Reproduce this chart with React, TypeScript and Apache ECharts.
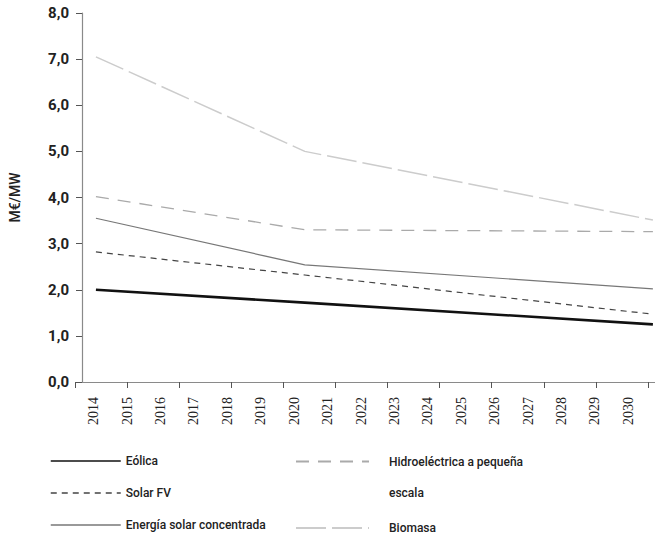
import React, { useEffect, useRef } from "react";
import * as echarts from "echarts";

const years = ["2014","2015","2016","2017","2018","2019","2020","2021","2022","2023","2024","2025","2026","2027","2028","2029","2030"];
const pointYears = [2014, 2020, 2030];
const eolica = [2.0, 1.72, 1.25];
const solarFV = [2.82, 2.32, 1.47];
const solarConc = [3.55, 2.54, 2.02];
const hidro = [4.02, 3.3, 3.26];
const biomasa = [7.05, 5.0, 3.51];
const yTicks = [0, 1, 2, 3, 4, 5, 6, 7, 8];

const pairs = (vals: number[]) => vals.map((v, i) => [pointYears[i], v]);

export default function App() {
  const ref = useRef<HTMLDivElement>(null);
  useEffect(() => {
    if (!ref.current) return;
    const chart = echarts.init(ref.current, undefined, { renderer: "svg" });
    const font = "Roboto";
    const mk = (name: string, vals: number[], color: string, width: number, type: any) => ({
      name,
      type: "line",
      xAxisIndex: 1,
      yAxisIndex: 0,
      data: pairs(vals),
      symbol: "none",
      lineStyle: { color, width, type },
      itemStyle: { color },
      z: 3,
    });
    const hiddenSymbol = { color: "rgba(0,0,0,0)", borderWidth: 0, opacity: 0 };
    chart.setOption({
      animation: false,
      backgroundColor: "#fff",
      grid: [
        { left: 75, right: 0, top: 13, bottom: 160 },
        { left: 77, right: 10, top: 13, bottom: 160 },
        { left: 75, right: 7, top: 13, bottom: 160 },
      ],
      xAxis: [
        {
          type: "value", gridIndex: 0, min: 0, max: 1, show: true,
          axisLine: { show: true, lineStyle: { color: "#8a8a8a", width: 1.2 } },
          axisTick: { show: false }, axisLabel: { show: false }, splitLine: { show: false },
        },
        {
          type: "value", gridIndex: 0, min: 2013.6, max: 2030.06, show: false,
        },
        {
          type: "category", gridIndex: 1, data: years, boundaryGap: true,
          axisLine: { show: false }, axisTick: { show: false }, splitLine: { show: false },
          axisLabel: { rotate: 90, margin: 15, fontFamily: "Liberation Sans Narrow", fontSize: 14, color: "#222", interval: 0 },
        },
        {
          type: "value", gridIndex: 2, min: 0, max: 11, interval: 1,
          axisLine: { show: false }, axisLabel: { show: false }, splitLine: { show: false },
          axisTick: { show: true, length: 6, lineStyle: { color: "#555", width: 1 } },
        },
      ],
      yAxis: [
        {
          type: "value", gridIndex: 0, min: yTicks[0], max: yTicks[yTicks.length - 1], interval: 1,
          name: "M€/MW", nameLocation: "middle", nameGap: 60, nameRotate: 90,
          nameTextStyle: { fontFamily: font, fontSize: 14, fontWeight: 500, color: "#222" },
          axisLine: { show: true, lineStyle: { color: "#8a8a8a", width: 1.2 } },
          axisTick: { show: true, length: 6, lineStyle: { color: "#555" } },
          splitLine: { show: false },
          axisLabel: {
            margin: 13, fontFamily: font, fontSize: 15, fontWeight: "bold", color: "#222",
            formatter: (v: number) => v.toFixed(1).replace(".", ","),
          },
        },
        { type: "value", gridIndex: 1, show: false },
        { type: "value", gridIndex: 2, show: false },
      ],
      legend: [
        {
          data: ["Eólica", "Solar FV", "Energía solar concentrada"],
          orient: "vertical", left: 45, top: 450, itemWidth: 70, itemHeight: 14, itemGap: 20,
          textStyle: { fontFamily: font, fontSize: 12, fontWeight: 500, color: "#222" },
          itemStyle: hiddenSymbol,
          lineStyle: { width: 1.5 },
          selectedMode: false,
        },
        {
          data: ["Hidroeléctrica a pequeña escala"],
          orient: "vertical", left: 290, top: 410, itemWidth: 73, itemHeight: 14,
          formatter: () => "\nHidroeléctrica a pequeña\nescala",
          textStyle: { fontFamily: font, fontSize: 12, fontWeight: 500, color: "#222", lineHeight: 31, padding: [0, 0, 0, 15] },
          itemStyle: hiddenSymbol,
          selectedMode: false,
        },
        {
          data: ["Biomasa"],
          orient: "vertical", left: 290, top: 517, itemWidth: 73, itemHeight: 14,
          textStyle: { fontFamily: font, fontSize: 12, fontWeight: 500, color: "#222", padding: [0, 0, 0, 15] },
          itemStyle: hiddenSymbol,
          selectedMode: false,
        },
      ],
      series: [
        mk("Eólica", eolica, "#111", 2.6, "solid"),
        mk("Solar FV", solarFV, "#444", 1.2, [6, 5]),
        mk("Energía solar concentrada", solarConc, "#777", 1.2, "solid"),
        mk("Hidroeléctrica a pequeña escala", hidro, "#aaa", 1.3, [13, 9]),
        mk("Biomasa", biomasa, "#ccc", 1.5, [30, 6]),
      ],
    });
    return () => chart.dispose();
  }, []);
  return <div ref={ref} style={{ width: 655, height: 542, position: "absolute", left: 0, top: 0 }} />;
}
